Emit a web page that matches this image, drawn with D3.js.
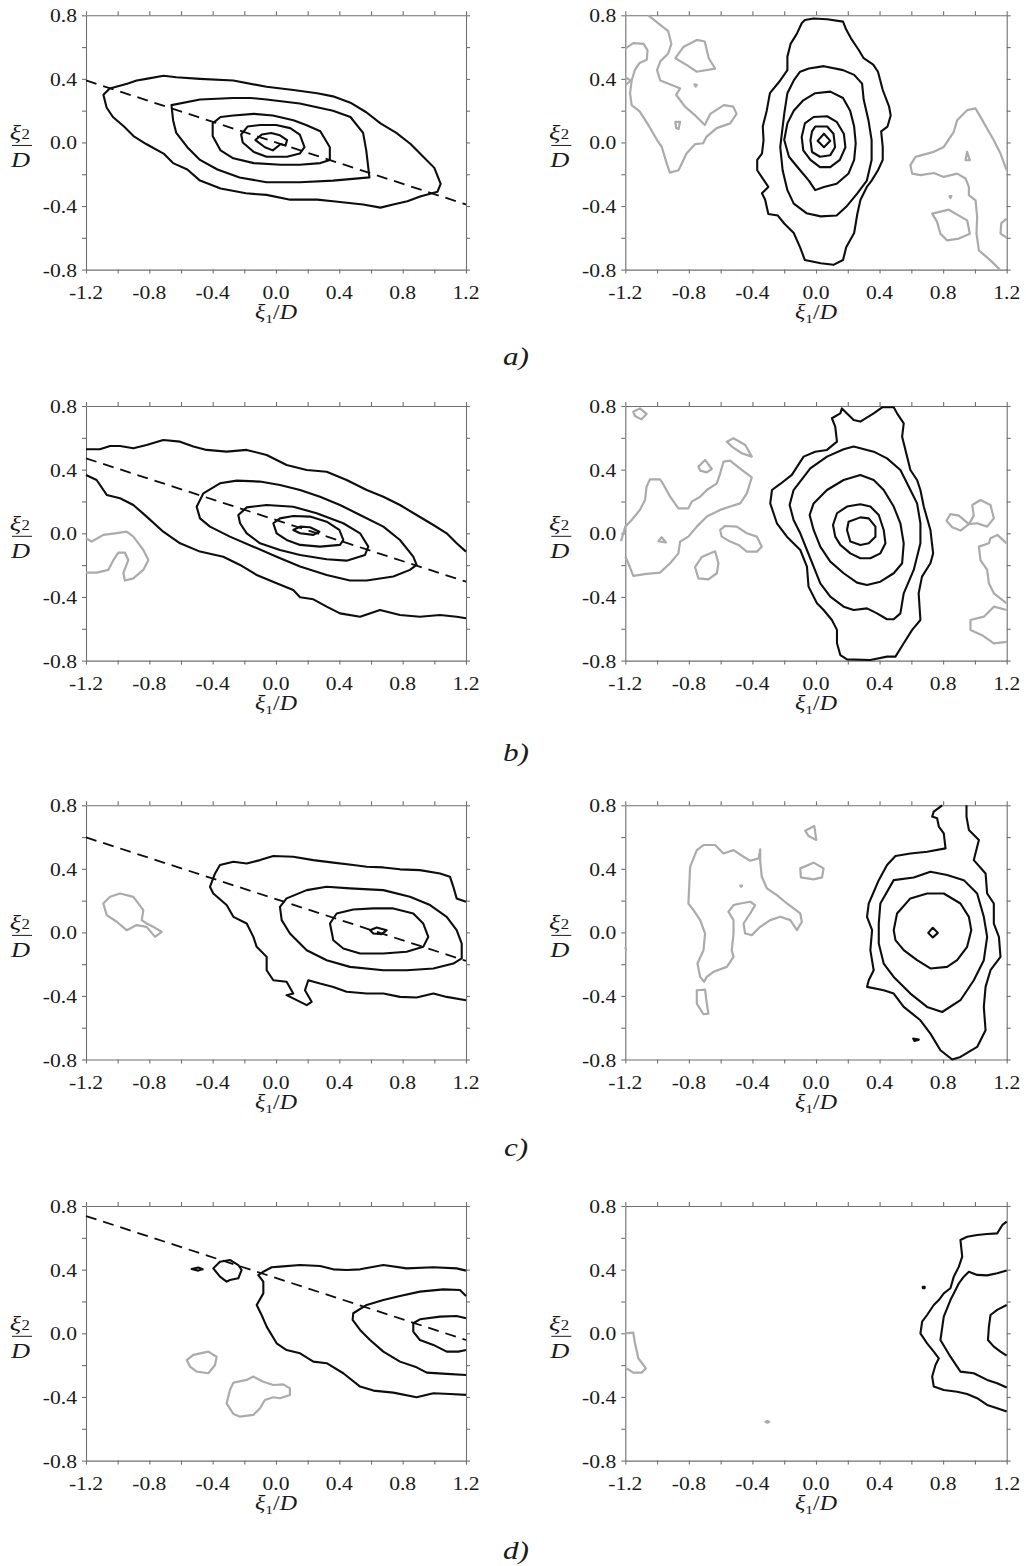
<!DOCTYPE html>
<html><head><meta charset="utf-8">
<script src="https://cdn.jsdelivr.net/npm/d3@7"></script>
<style>
html,body{margin:0;padding:0;background:#fff;}
svg{display:block;}
text{font-family:"Liberation Serif","DejaVu Serif",serif;fill:#1a1a1a;}
</style></head>
<body>
<svg id="chart" width="1026" height="1566"></svg>
<script>
// ---------- axes / labels ----------
const xTickVals = [-1.2,-1.0,-0.8,-0.6,-0.4,-0.2,0.0,0.2,0.4,0.6,0.8,1.0,1.2];
const yTickVals = [-0.8,-0.6,-0.4,-0.2,0.0,0.2,0.4,0.6,0.8];
const xLabelVals = [-1.2,-0.8,-0.4,0.0,0.4,0.8,1.2];
const xLabelText = ["-1.2","-0.8","-0.4","0.0","0.4","0.8","1.2"];
const yLabelVals = [-0.8,-0.4,0.0,0.4,0.8];
const yLabelText = ["-0.8","-0.4","0.0","0.4","0.8"];
const panelLetters = ["a)","b)","c)","d)"];

// ---------- a) left ----------
const aL_black = [
 [[-1.09,0.30],[-1.05,0.34],[-0.94,0.37],[-0.88,0.39],[-0.82,0.40],[-0.71,0.42],[-0.63,0.41],[-0.48,0.40],[-0.27,0.39],[-0.06,0.35],[0.11,0.33],[0.26,0.31],[0.36,0.29],[0.47,0.25],[0.57,0.19],[0.66,0.12],[0.76,0.06],[0.85,-0.01],[0.93,-0.09],[1.00,-0.16],[1.04,-0.26],[1.02,-0.31],[0.91,-0.34],[0.83,-0.37],[0.74,-0.39],[0.66,-0.41],[0.55,-0.39],[0.36,-0.37],[0.26,-0.36],[0.09,-0.36],[-0.06,-0.33],[-0.19,-0.32],[-0.35,-0.29],[-0.48,-0.24],[-0.56,-0.17],[-0.65,-0.13],[-0.71,-0.07],[-0.82,-0.01],[-0.90,0.04],[-0.96,0.10],[-1.03,0.16],[-1.07,0.22]],
 [[-0.66,0.235],[-0.48,0.27],[-0.27,0.28],[-0.16,0.28],[-0.06,0.27],[0.15,0.245],[0.36,0.20],[0.47,0.16],[0.55,0.06],[0.57,-0.05],[0.59,-0.22],[0.36,-0.24],[0.15,-0.25],[0.04,-0.25],[-0.06,-0.25],[-0.23,-0.22],[-0.37,-0.17],[-0.48,-0.11],[-0.56,-0.03],[-0.63,0.06],[-0.65,0.14]],
 [[-0.40,0.12],[-0.35,0.16],[-0.27,0.17],[-0.14,0.18],[-0.02,0.17],[0.11,0.14],[0.19,0.11],[0.28,0.07],[0.34,-0.03],[0.34,-0.11],[0.28,-0.13],[0.15,-0.14],[0.03,-0.14],[-0.14,-0.13],[-0.27,-0.10],[-0.35,-0.05],[-0.40,0.04]],
 [[-0.22,0.05],[-0.18,0.10],[-0.10,0.11],[0.00,0.11],[0.09,0.09],[0.15,0.05],[0.18,-0.03],[0.15,-0.07],[0.07,-0.09],[-0.06,-0.09],[-0.14,-0.06],[-0.21,0.00]],
 [[-0.13,0.015],[-0.09,0.05],[-0.03,0.06],[0.025,0.045],[0.07,0.015],[0.06,-0.02],[0.03,-0.01],[-0.02,-0.05],[-0.07,-0.03]]
];
const aL_blackOpen = [];
const aL_gray = [];
const aL_grayOpen = [];
const aL_dash = [[-1.2,0.39],[1.2,-0.39]];

// ---------- a) right ----------
const aR_black = [
 [[-0.07,0.77],[-0.015,0.78],[0.07,0.775],[0.17,0.76],[0.19,0.71],[0.22,0.655],[0.27,0.58],[0.30,0.53],[0.36,0.49],[0.39,0.445],[0.42,0.33],[0.46,0.225],[0.47,0.17],[0.45,0.10],[0.41,0.07],[0.42,-0.03],[0.42,-0.11],[0.39,-0.175],[0.35,-0.24],[0.32,-0.28],[0.28,-0.36],[0.26,-0.45],[0.24,-0.57],[0.19,-0.66],[0.17,-0.74],[0.11,-0.77],[0.03,-0.76],[-0.07,-0.74],[-0.10,-0.66],[-0.14,-0.57],[-0.20,-0.51],[-0.24,-0.46],[-0.30,-0.45],[-0.32,-0.36],[-0.34,-0.32],[-0.30,-0.28],[-0.34,-0.22],[-0.37,-0.175],[-0.37,-0.11],[-0.34,-0.07],[-0.33,0.015],[-0.335,0.10],[-0.31,0.20],[-0.29,0.31],[-0.225,0.39],[-0.18,0.455],[-0.18,0.54],[-0.16,0.62],[-0.12,0.685],[-0.09,0.75]],
 [[-0.045,0.465],[0.05,0.48],[0.17,0.455],[0.24,0.425],[0.29,0.37],[0.30,0.27],[0.33,0.14],[0.35,0.015],[0.35,-0.11],[0.32,-0.24],[0.26,-0.32],[0.19,-0.405],[0.13,-0.46],[0.03,-0.465],[-0.06,-0.445],[-0.14,-0.385],[-0.18,-0.30],[-0.21,-0.175],[-0.225,-0.03],[-0.215,0.055],[-0.20,0.18],[-0.18,0.31],[-0.14,0.39],[-0.10,0.445]],
 [[-0.005,0.31],[0.09,0.32],[0.17,0.28],[0.215,0.20],[0.24,0.10],[0.25,-0.005],[0.24,-0.11],[0.205,-0.195],[0.13,-0.26],[0.05,-0.28],[-0.005,-0.30],[-0.045,-0.24],[-0.10,-0.175],[-0.17,-0.09],[-0.20,0.015],[-0.18,0.12],[-0.14,0.20],[-0.08,0.265]],
 [[-0.015,0.16],[0.07,0.165],[0.13,0.13],[0.175,0.055],[0.185,-0.03],[0.15,-0.11],[0.09,-0.155],[0.025,-0.155],[-0.035,-0.11],[-0.08,-0.05],[-0.09,0.035],[-0.07,0.12]],
 [[-0.005,0.10],[0.07,0.10],[0.11,0.055],[0.12,-0.03],[0.09,-0.08],[0.025,-0.09],[-0.025,-0.06],[-0.035,0.015],[-0.025,0.07]],
 [[0.05,0.055],[0.09,0.01],[0.05,-0.03],[0.01,0.01]]
];
const aR_blackOpen = [];
const aR_gray = [
 [[-0.885,0.53],[-0.835,0.60],[-0.75,0.645],[-0.70,0.635],[-0.675,0.53],[-0.635,0.465],[-0.75,0.445],[-0.81,0.485]],
 [[-0.765,0.365],[-0.75,0.362],[-0.757,0.352]],
 [[-0.885,0.13],[-0.855,0.13],[-0.865,0.085],[-0.88,0.09]],
 [[0.731,-0.448],[0.836,-0.423],[0.951,-0.49],[0.968,-0.574],[0.899,-0.605],[0.825,-0.616],[0.783,-0.574],[0.762,-0.50]],
 [[0.951,-0.059],[0.968,-0.112],[0.941,-0.112]],
 [[0.84,-0.338],[0.852,-0.338],[0.846,-0.35]]
];
const aR_grayOpen = [
 [[-1.055,0.8],[-0.98,0.74],[-0.93,0.70],[-0.91,0.62],[-0.93,0.56],[-0.98,0.51],[-1.00,0.455],[-0.98,0.39],[-0.88,0.35],[-0.855,0.34],[-0.88,0.30],[-0.825,0.225],[-0.76,0.17],[-0.70,0.11],[-0.665,0.18],[-0.58,0.235],[-0.52,0.225],[-0.50,0.18],[-0.54,0.12],[-0.625,0.09],[-0.69,0.035],[-0.71,-0.005],[-0.76,-0.01],[-0.815,-0.07],[-0.855,-0.155],[-0.865,-0.175],[-0.92,-0.19],[-0.94,-0.13],[-0.97,-0.03],[-1.00,0.015],[-1.055,0.11],[-1.11,0.195],[-1.16,0.235],[-1.17,0.31],[-1.16,0.39],[-1.14,0.455],[-1.11,0.50],[-1.065,0.52],[-1.06,0.58],[-1.085,0.62],[-1.15,0.625],[-1.2,0.59]],
 [[-1.2,0.41],[-1.165,0.39],[-1.2,0.36]],
 [[1.2,-0.175],[1.161,-0.07],[1.119,0.014],[1.088,0.067],[1.035,0.161],[1.004,0.214],[0.951,0.203],[0.888,0.14],[0.867,0.067],[0.804,-0.028],[0.741,-0.059],[0.626,-0.091],[0.594,-0.143],[0.605,-0.196],[0.657,-0.206],[0.741,-0.192],[0.804,-0.217],[0.888,-0.196],[0.941,-0.227],[0.962,-0.28],[0.962,-0.332],[1.004,-0.364],[1.014,-0.469],[1.010,-0.574],[1.025,-0.679],[1.098,-0.742],[1.157,-0.80]],
 [[1.2,-0.479],[1.166,-0.507],[1.161,-0.574],[1.2,-0.599]]
];
const aR_dash = [];

// ---------- b) left ----------
const bL_black = [
 [[-0.501,0.167],[-0.459,0.251],[-0.354,0.314],[-0.248,0.331],[-0.101,0.325],[0.025,0.304],[0.152,0.272],[0.278,0.23],[0.404,0.178],[0.531,0.115],[0.678,0.042],[0.783,-0.042],[0.867,-0.147],[0.888,-0.199],[0.846,-0.23],[0.741,-0.272],[0.573,-0.297],[0.467,-0.297],[0.32,-0.262],[0.152,-0.209],[0.004,-0.147],[-0.143,-0.084],[-0.291,-0.021],[-0.417,0.042],[-0.48,0.094]],
 [[-0.238,0.115],[-0.185,0.163],[-0.059,0.178],[0.109,0.167],[0.257,0.126],[0.425,0.063],[0.531,0.0],[0.583,-0.084],[0.562,-0.136],[0.446,-0.172],[0.32,-0.163],[0.152,-0.136],[0.025,-0.105],[-0.101,-0.063],[-0.185,0.0],[-0.227,0.063]],
 [[-0.017,0.063],[0.025,0.094],[0.109,0.109],[0.215,0.105],[0.32,0.073],[0.40,0.021],[0.425,-0.042],[0.404,-0.073],[0.278,-0.084],[0.152,-0.073],[0.067,-0.042],[0.004,0.0]],
 [[0.109,0.021],[0.152,0.042],[0.215,0.038],[0.274,0.010],[0.236,-0.010],[0.152,0.0]]
];
const bL_blackOpen = [
 [[-1.2,0.528],[-1.112,0.528],[-1.048,0.549],[-0.985,0.549],[-0.901,0.534],[-0.817,0.555],[-0.712,0.586],[-0.606,0.576],[-0.522,0.545],[-0.438,0.524],[-0.312,0.513],[-0.185,0.524],[-0.059,0.492],[0.067,0.429],[0.194,0.398],[0.32,0.387],[0.446,0.335],[0.573,0.272],[0.678,0.23],[0.783,0.178],[0.888,0.115],[0.994,0.052],[1.078,0.0],[1.141,-0.063],[1.2,-0.115]],
 [[-1.2,0.366],[-1.133,0.335],[-1.069,0.241],[-0.985,0.22],[-0.901,0.178],[-0.817,0.105],[-0.712,0.010],[-0.606,-0.063],[-0.48,-0.115],[-0.333,-0.147],[-0.227,-0.199],[-0.122,-0.262],[0.004,-0.314],[0.109,-0.356],[0.152,-0.402],[0.236,-0.415],[0.32,-0.461],[0.404,-0.503],[0.531,-0.524],[0.657,-0.482],[0.783,-0.513],[0.909,-0.524],[1.036,-0.513],[1.141,-0.524],[1.2,-0.534]]
];
const bL_gray = [];
const bL_grayOpen = [
 [[-1.2,-0.031],[-1.164,-0.052],[-1.09,-0.010],[-1.017,0.0],[-0.943,0.010],[-0.901,-0.021],[-0.869,-0.063],[-0.838,-0.105],[-0.806,-0.168],[-0.838,-0.23],[-0.901,-0.283],[-0.954,-0.297],[-0.964,-0.251],[-0.933,-0.168],[-0.954,-0.122],[-0.996,-0.122],[-1.027,-0.168],[-1.059,-0.23],[-1.133,-0.247],[-1.2,-0.247]]
];
const bL_dash = [[-1.2,0.471],[1.2,-0.304]];

// ---------- b) right ----------
const bR_black = [
 [[0.153,0.754],[0.163,0.785],[0.237,0.712],[0.279,0.702],[0.363,0.754],[0.416,0.792],[0.489,0.792],[0.51,0.754],[0.552,0.691],[0.542,0.607],[0.573,0.482],[0.594,0.398],[0.636,0.335],[0.657,0.272],[0.678,0.168],[0.72,0.021],[0.737,-0.126],[0.72,-0.188],[0.667,-0.272],[0.646,-0.377],[0.657,-0.545],[0.605,-0.607],[0.552,-0.691],[0.50,-0.775],[0.447,-0.775],[0.342,-0.796],[0.195,-0.792],[0.153,-0.765],[0.132,-0.691],[0.132,-0.607],[0.10,-0.545],[0.048,-0.482],[0.006,-0.44],[-0.047,-0.335],[-0.057,-0.209],[-0.099,-0.105],[-0.183,-0.021],[-0.246,0.063],[-0.288,0.188],[-0.277,0.272],[-0.225,0.31],[-0.152,0.367],[-0.078,0.482],[-0.005,0.513],[0.069,0.524],[0.132,0.576],[0.121,0.67],[0.10,0.723]],
 [[-0.166,0.178],[-0.141,0.272],[-0.036,0.408],[0.069,0.482],[0.174,0.528],[0.237,0.545],[0.363,0.513],[0.447,0.471],[0.531,0.398],[0.584,0.293],[0.636,0.188],[0.657,0.063],[0.657,-0.063],[0.615,-0.23],[0.552,-0.377],[0.531,-0.503],[0.489,-0.54],[0.447,-0.54],[0.384,-0.503],[0.321,-0.472],[0.237,-0.482],[0.174,-0.461],[0.09,-0.398],[0.027,-0.314],[-0.015,-0.209],[-0.057,-0.105],[-0.099,0.0],[-0.141,0.084]],
 [[-0.04,0.115],[-0.015,0.188],[0.069,0.272],[0.174,0.335],[0.279,0.367],[0.363,0.335],[0.426,0.272],[0.489,0.168],[0.531,0.063],[0.552,-0.063],[0.542,-0.188],[0.489,-0.251],[0.405,-0.304],[0.321,-0.325],[0.258,-0.31],[0.174,-0.251],[0.09,-0.178],[0.027,-0.084],[-0.015,0.021]],
 [[0.107,0.052],[0.132,0.126],[0.195,0.168],[0.279,0.183],[0.342,0.168],[0.395,0.115],[0.426,0.021],[0.437,-0.063],[0.405,-0.126],[0.342,-0.157],[0.279,-0.157],[0.216,-0.126],[0.153,-0.073],[0.121,-0.021]],
 [[0.195,0.021],[0.205,0.073],[0.279,0.10],[0.332,0.094],[0.374,0.042],[0.374,-0.021],[0.332,-0.063],[0.279,-0.073],[0.216,-0.052]]
];
const bR_blackOpen = [];
const bR_gray = [
 [[-1.15,0.764],[-1.108,0.785],[-1.066,0.75],[-1.098,0.716],[-1.139,0.737]],
 [[-0.74,0.419],[-0.698,0.461],[-0.656,0.404],[-0.687,0.383],[-0.729,0.394]],
 [[-0.561,0.576],[-0.519,0.597],[-0.445,0.555],[-0.404,0.482],[-0.467,0.503],[-0.53,0.545]],
 [[-0.992,-0.05],[-0.971,-0.025],[-0.944,-0.057]],
 [[-0.603,0.021],[-0.572,0.046],[-0.498,0.042],[-0.435,0.0],[-0.372,-0.021],[-0.341,-0.084],[-0.372,-0.115],[-0.435,-0.115],[-0.488,-0.073],[-0.54,-0.052],[-0.593,-0.021]],
 [[-0.761,-0.213],[-0.719,-0.149],[-0.635,-0.113],[-0.614,-0.188],[-0.624,-0.251],[-0.677,-0.289],[-0.74,-0.283]],
 [[0.821,0.079],[0.846,0.121],[0.899,0.111],[0.962,0.058],[0.993,0.111],[0.983,0.178],[1.035,0.209],[1.098,0.178],[1.119,0.094],[1.077,0.042],[1.014,0.063],[0.962,0.058],[0.909,0.017],[0.857,0.038]]
];
const bR_grayOpen = [
 [[-1.2,-0.147],[-1.181,-0.188],[-1.15,-0.268],[-1.066,-0.255],[-0.982,-0.247],[-0.918,-0.188],[-0.866,-0.126],[-0.855,-0.052],[-0.803,-0.021],[-0.75,0.042],[-0.687,0.105],[-0.603,0.147],[-0.54,0.168],[-0.477,0.188],[-0.435,0.251],[-0.404,0.352],[-0.467,0.398],[-0.519,0.44],[-0.54,0.457],[-0.582,0.45],[-0.603,0.377],[-0.624,0.314],[-0.687,0.272],[-0.729,0.23],[-0.782,0.199],[-0.803,0.157],[-0.866,0.157],[-0.918,0.23],[-0.971,0.325],[-0.982,0.339],[-1.045,0.339],[-1.066,0.293],[-1.076,0.209],[-1.108,0.147],[-1.16,0.084],[-1.2,0.042],[-1.227,-0.05]],
 [[1.2,-0.063],[1.141,-0.010],[1.098,-0.031],[1.088,-0.063],[1.025,-0.084],[1.035,-0.168],[1.077,-0.23],[1.088,-0.314],[1.119,-0.377],[1.2,-0.44]],
 [[1.2,-0.482],[1.119,-0.461],[1.056,-0.524],[0.972,-0.545],[0.972,-0.608],[1.045,-0.64],[1.119,-0.692],[1.2,-0.682]]
];
const bR_dash = [];

// ---------- c) left ----------
const cL_black = [
 [[0.025,0.161],[0.067,0.214],[0.194,0.266],[0.32,0.287],[0.467,0.277],[0.678,0.266],[0.846,0.224],[0.973,0.172],[1.078,0.098],[1.141,0.014],[1.173,-0.07],[1.173,-0.164],[1.12,-0.196],[0.994,-0.227],[0.825,-0.238],[0.678,-0.238],[0.467,-0.217],[0.32,-0.175],[0.194,-0.112],[0.088,-0.007],[0.036,0.077]],
 [[0.341,0.056],[0.383,0.119],[0.488,0.144],[0.615,0.151],[0.741,0.151],[0.867,0.119],[0.93,0.056],[0.962,-0.028],[0.93,-0.091],[0.825,-0.122],[0.678,-0.133],[0.531,-0.133],[0.425,-0.101],[0.362,-0.049]],
 [[0.594,0.014],[0.636,0.031],[0.699,0.014],[0.667,-0.011],[0.615,-0.007]]
];
const cL_blackOpen = [
 [[1.2,0.193],[1.141,0.214],[1.12,0.287],[1.099,0.35],[1.036,0.371],[0.909,0.392],[0.783,0.397],[0.678,0.409],[0.573,0.413],[0.488,0.424],[0.362,0.439],[0.236,0.455],[0.109,0.476],[-0.017,0.481],[-0.101,0.455],[-0.185,0.434],[-0.269,0.445],[-0.354,0.424],[-0.385,0.371],[-0.417,0.287],[-0.396,0.245],[-0.312,0.172],[-0.269,0.098],[-0.185,0.056],[-0.143,-0.028],[-0.122,-0.091],[-0.059,-0.154],[-0.059,-0.238],[-0.017,-0.301],[0.067,-0.311],[0.109,-0.385],[0.067,-0.395],[0.194,-0.458],[0.225,-0.437],[0.183,-0.364],[0.204,-0.301],[0.278,-0.322],[0.362,-0.343],[0.446,-0.374],[0.573,-0.385],[0.678,-0.385],[0.783,-0.406],[0.888,-0.41],[0.994,-0.385],[1.078,-0.406],[1.2,-0.427]]
];
const cL_gray = [
 [[-1.091,0.182],[-1.048,0.224],[-0.985,0.245],[-0.901,0.224],[-0.838,0.14],[-0.848,0.077],[-0.817,0.056],[-0.775,0.035],[-0.722,0.004],[-0.764,-0.028],[-0.817,0.035],[-0.88,0.046],[-0.943,0.014],[-1.006,0.067],[-1.069,0.109]]
];
const cL_grayOpen = [];
const cL_dash = [[-1.2,0.598],[1.2,-0.179]];

// ---------- c) right ----------
const cR_black = [
 [[0.395,0.056],[0.405,0.182],[0.489,0.329],[0.615,0.346],[0.72,0.382],[0.825,0.361],[0.93,0.329],[1.014,0.245],[1.056,0.098],[1.077,-0.028],[1.056,-0.175],[0.993,-0.301],[0.909,-0.427],[0.794,-0.501],[0.699,-0.469],[0.594,-0.385],[0.489,-0.28],[0.426,-0.196],[0.395,-0.07]],
 [[0.489,0.014],[0.51,0.119],[0.594,0.214],[0.699,0.245],[0.804,0.245],[0.909,0.182],[0.962,0.098],[0.977,0.014],[0.951,-0.091],[0.888,-0.175],[0.825,-0.217],[0.72,-0.227],[0.636,-0.175],[0.552,-0.112],[0.50,-0.049]],
 [[0.706,-0.003],[0.735,0.029],[0.767,-0.003],[0.735,-0.032]],
 [[0.611,-0.668],[0.647,-0.675],[0.62,-0.683]]
];
const cR_blackOpen = [
 [[0.794,0.8],[0.741,0.76],[0.731,0.729],[0.762,0.718],[0.773,0.666],[0.804,0.624],[0.815,0.529],[0.699,0.508],[0.594,0.497],[0.50,0.481],[0.447,0.424],[0.395,0.329],[0.332,0.182],[0.321,0.098],[0.353,0.014],[0.342,-0.112],[0.363,-0.238],[0.332,-0.301],[0.321,-0.343],[0.426,-0.364],[0.489,-0.385],[0.552,-0.469],[0.657,-0.553],[0.72,-0.637],[0.783,-0.742],[0.857,-0.80],[0.909,-0.784],[1.014,-0.721],[1.067,-0.616],[1.056,-0.469],[1.067,-0.343],[1.098,-0.238],[1.161,-0.154],[1.151,-0.028],[1.119,0.056],[1.119,0.182],[1.077,0.245],[1.067,0.371],[0.993,0.455],[1.025,0.581],[0.962,0.645],[0.947,0.729],[0.947,0.8]]
];
const cR_gray = [
 [[-0.708,0.55],[-0.635,0.55],[-0.582,0.497],[-0.519,0.518],[-0.456,0.476],[-0.414,0.451],[-0.361,0.466],[-0.351,0.523],[-0.351,0.445],[-0.341,0.35],[-0.309,0.277],[-0.246,0.235],[-0.183,0.182],[-0.099,0.119],[-0.089,0.067],[-0.12,0.014],[-0.162,0.077],[-0.225,0.098],[-0.288,0.077],[-0.351,0.035],[-0.404,-0.017],[-0.446,-0.007],[-0.456,0.056],[-0.414,0.119],[-0.383,0.172],[-0.414,0.193],[-0.477,0.182],[-0.519,0.172],[-0.551,0.13],[-0.519,0.077],[-0.519,-0.007],[-0.53,-0.112],[-0.519,-0.154],[-0.561,-0.217],[-0.645,-0.248],[-0.687,-0.28],[-0.704,-0.311],[-0.729,-0.28],[-0.746,-0.196],[-0.708,-0.112],[-0.698,-0.007],[-0.729,0.077],[-0.771,0.14],[-0.803,0.182],[-0.797,0.308],[-0.792,0.413],[-0.75,0.518]],
 [[-0.477,0.294],[-0.465,0.294],[-0.471,0.288]],
 [[-0.75,-0.364],[-0.698,-0.36],[-0.687,-0.448],[-0.677,-0.511],[-0.708,-0.515],[-0.75,-0.448]],
 [[-0.099,0.403],[-0.015,0.439],[0.048,0.403],[0.038,0.346],[-0.015,0.334],[-0.095,0.346]],
 [[-0.068,0.64],[-0.011,0.67],[0.002,0.582],[-0.047,0.607]]
];
const cR_grayOpen = [
 [[-1.2,-0.09],[-1.195,-0.115]]
];
const cR_dash = [];

// ---------- d) left ----------
const dL_black = [
 [[-0.396,0.408],[-0.354,0.45],[-0.291,0.461],[-0.238,0.429],[-0.217,0.398],[-0.238,0.346],[-0.291,0.335],[-0.312,0.325],[-0.354,0.356]],
 [[-0.533,0.404],[-0.491,0.413],[-0.463,0.402],[-0.491,0.394]]
];
const dL_blackOpen = [
 [[1.2,0.394],[1.141,0.408],[0.994,0.415],[0.825,0.408],[0.678,0.429],[0.531,0.402],[0.446,0.398],[0.362,0.402],[0.278,0.423],[0.152,0.429],[0.025,0.419],[-0.027,0.415],[-0.08,0.387],[-0.112,0.366],[-0.08,0.325],[-0.08,0.251],[-0.122,0.178],[-0.091,0.115],[-0.059,0.042],[0.004,-0.063],[0.067,-0.105],[0.152,-0.126],[0.236,-0.178],[0.32,-0.188],[0.425,-0.251],[0.531,-0.335],[0.615,-0.36],[0.741,-0.373],[0.888,-0.402],[0.994,-0.377],[1.099,-0.381],[1.2,-0.387]],
 [[1.2,0.235],[1.162,0.272],[1.057,0.276],[0.909,0.262],[0.783,0.235],[0.678,0.209],[0.573,0.178],[0.488,0.126],[0.484,0.084],[0.531,0.021],[0.594,-0.042],[0.678,-0.115],[0.783,-0.178],[0.888,-0.214],[0.952,-0.247],[1.078,-0.255],[1.2,-0.262]],
 [[1.2,0.094],[1.141,0.109],[1.036,0.105],[0.909,0.088],[0.867,0.063],[0.867,0.010],[0.909,-0.042],[0.994,-0.073],[1.078,-0.115],[1.152,-0.115],[1.2,-0.105]]
];
const dL_gray = [
 [[-0.564,-0.168],[-0.522,-0.136],[-0.427,-0.115],[-0.375,-0.147],[-0.385,-0.199],[-0.427,-0.251],[-0.501,-0.241],[-0.543,-0.209]],
 [[-0.312,-0.44],[-0.291,-0.356],[-0.269,-0.31],[-0.185,-0.293],[-0.143,-0.272],[-0.08,-0.304],[-0.017,-0.325],[0.046,-0.321],[0.088,-0.346],[0.088,-0.388],[0.025,-0.408],[-0.017,-0.402],[-0.07,-0.419],[-0.101,-0.471],[-0.143,-0.513],[-0.227,-0.524],[-0.269,-0.507]]
];
const dL_grayOpen = [];
const dL_dash = [[-1.2,0.737],[1.2,-0.042]];

// ---------- d) right ----------
const dR_black = [
 [[0.672,0.292],[0.684,0.292],[0.684,0.284],[0.672,0.284]]
];
const dR_blackOpen = [
 [[1.2,0.702],[1.173,0.681],[1.14,0.628],[1.077,0.624],[1.014,0.618],[0.951,0.607],[0.909,0.586],[0.92,0.482],[0.899,0.419],[0.867,0.356],[0.846,0.283],[0.804,0.251],[0.773,0.209],[0.741,0.178],[0.699,0.115],[0.668,0.073],[0.657,0.0],[0.699,-0.063],[0.741,-0.115],[0.773,-0.157],[0.752,-0.199],[0.731,-0.272],[0.741,-0.335],[0.804,-0.356],[0.888,-0.367],[0.951,-0.381],[1.014,-0.408],[1.077,-0.45],[1.14,-0.471],[1.2,-0.492]],
 [[1.2,0.394],[1.14,0.377],[1.077,0.364],[1.014,0.367],[0.962,0.387],[0.93,0.356],[0.899,0.314],[0.878,0.272],[0.846,0.209],[0.804,0.105],[0.783,-0.042],[0.846,-0.147],[0.909,-0.241],[0.993,-0.251],[1.077,-0.293],[1.14,-0.314],[1.2,-0.341]],
 [[1.2,0.178],[1.14,0.147],[1.098,0.115],[1.088,0.042],[1.082,-0.042],[1.119,-0.084],[1.161,-0.115],[1.2,-0.14]]
];
const dR_gray = [
 [[-0.318,-0.556],[-0.306,-0.552],[-0.294,-0.556],[-0.306,-0.562]]
];
const dR_grayOpen = [
 [[-1.2,0.0],[-1.15,0.004],[-1.139,-0.063],[-1.118,-0.157],[-1.07,-0.22],[-1.097,-0.247],[-1.15,-0.247],[-1.192,-0.22]]
];
const dR_dash = [];

// ---------- layout table built from the arrays ----------
const colX = [[86,466],[625.3,1006.7]];
const rowY = [[15.3,269.6],[406,660.6],[805.3,1059.5],[1206,1460.6]];
const letterY = [365,761,1156,1559];

const panels = [
 {r:0,c:0,black:aL_black,blackOpen:aL_blackOpen,gray:aL_gray,grayOpen:aL_grayOpen,dash:aL_dash},
 {r:0,c:1,black:aR_black,blackOpen:aR_blackOpen,gray:aR_gray,grayOpen:aR_grayOpen,dash:aR_dash},
 {r:1,c:0,black:bL_black,blackOpen:bL_blackOpen,gray:bL_gray,grayOpen:bL_grayOpen,dash:bL_dash},
 {r:1,c:1,black:bR_black,blackOpen:bR_blackOpen,gray:bR_gray,grayOpen:bR_grayOpen,dash:bR_dash},
 {r:2,c:0,black:cL_black,blackOpen:cL_blackOpen,gray:cL_gray,grayOpen:cL_grayOpen,dash:cL_dash},
 {r:2,c:1,black:cR_black,blackOpen:cR_blackOpen,gray:cR_gray,grayOpen:cR_grayOpen,dash:cR_dash},
 {r:3,c:0,black:dL_black,blackOpen:dL_blackOpen,gray:dL_gray,grayOpen:dL_grayOpen,dash:dL_dash},
 {r:3,c:1,black:dR_black,blackOpen:dR_blackOpen,gray:dR_gray,grayOpen:dR_grayOpen,dash:dR_dash}
];

const svg = d3.select("#chart");
const AX = "#707070", BLK = "#0d0d0d", GRY = "#ababab";
const SX = 1.2; // horizontal stretch of glyphs

function stretchedText(g, x, y, str, size, anchor, italic){
  return g.append("text")
    .attr("transform", `translate(${x},${y}) scale(${SX},1)`)
    .attr("text-anchor", anchor)
    .style("font-size", size + "px")
    .style("font-style", italic ? "italic" : "normal")
    .text(str);
}

panels.forEach(p => {
  const [x0,x1] = colX[p.c];
  const [y0,y1] = rowY[p.r];
  const xs = d3.scaleLinear().domain([-1.2,1.2]).range([x0,x1]);
  const ys = d3.scaleLinear().domain([-0.8,0.8]).range([y1,y0]);
  const g = svg.append("g");

  const line = d3.line().x(d=>xs(d[0])).y(d=>ys(d[1]));
  const lineC = d3.line().x(d=>xs(d[0])).y(d=>ys(d[1])).curve(d3.curveLinearClosed);

  // axes (ticks every 0.2, outward)
  const mk = (axis, tr) => {
    const a = g.append("g").attr("transform", tr).call(axis);
    a.selectAll("path").attr("stroke", AX).attr("stroke-width", 1.1);
    a.selectAll("line").attr("stroke", AX).attr("stroke-width", 1.1);
    a.selectAll("text").remove();
  };
  mk(d3.axisBottom(xs).tickValues(xTickVals).tickSize(4).tickSizeOuter(0).tickFormat(""), `translate(0,${y1})`);
  mk(d3.axisTop(xs).tickValues(xTickVals).tickSize(4).tickSizeOuter(0).tickFormat(""), `translate(0,${y0})`);
  mk(d3.axisLeft(ys).tickValues(yTickVals).tickSize(4).tickSizeOuter(0).tickFormat(""), `translate(${x0},0)`);
  mk(d3.axisRight(ys).tickValues(yTickVals).tickSize(4).tickSizeOuter(0).tickFormat(""), `translate(${x1},0)`);

  // tick labels
  xLabelVals.forEach((v,i) => stretchedText(g, xs(v), y1 + 29, xLabelText[i], 18, "middle", false));
  yLabelVals.forEach((v,i) => stretchedText(g, x0 - 9, ys(v) + 7, yLabelText[i], 18, "end", false));

  // contours
  g.selectAll(null).data(p.gray).enter().append("path")
    .attr("d", lineC).attr("fill","none").attr("stroke",GRY).attr("stroke-width",2.2).attr("stroke-linejoin","round");
  g.selectAll(null).data(p.grayOpen).enter().append("path")
    .attr("d", line).attr("fill","none").attr("stroke",GRY).attr("stroke-width",2.2).attr("stroke-linejoin","round");
  g.selectAll(null).data(p.black).enter().append("path")
    .attr("d", lineC).attr("fill","none").attr("stroke",BLK).attr("stroke-width",2.1).attr("stroke-linejoin","round");
  g.selectAll(null).data(p.blackOpen).enter().append("path")
    .attr("d", line).attr("fill","none").attr("stroke",BLK).attr("stroke-width",2.1).attr("stroke-linejoin","round");
  if (p.dash.length) {
    g.append("path").datum(p.dash).attr("d", line).attr("fill","none")
      .attr("stroke",BLK).attr("stroke-width",1.8).attr("stroke-dasharray","11,7");
  }

  // y-axis label: xi_2 over D
  const cx = x0 - 64, zy = ys(0);
  const yl = g.append("g");
  yl.append("text").attr("transform",`translate(${cx-1},${zy-2}) scale(${SX},1)`)
    .attr("text-anchor","end").style("font-size","22px").style("font-style","italic").text("ξ");
  yl.append("text").attr("transform",`translate(${cx-0.5},${zy-3}) scale(${SX},1)`)
    .attr("text-anchor","start").style("font-size","14px").text("2");
  yl.append("line").attr("x1",cx-10).attr("x2",cx+10).attr("y1",zy+3).attr("y2",zy+3)
    .attr("stroke","#1a1a1a").attr("stroke-width",1);
  yl.append("text").attr("transform",`translate(${cx-1.5},${zy+24.5}) scale(${SX},1)`)
    .attr("text-anchor","middle").style("font-size","22px").style("font-style","italic").text("D");

  // x-axis label: xi_1 / D
  const mx = (x0 + x1) / 2, by = y1 + 49;
  const xl = g.append("text").attr("transform",`translate(${mx},${by}) scale(${SX},1)`)
    .attr("text-anchor","middle").style("font-size","20px");
  xl.append("tspan").style("font-style","italic").text("ξ");
  xl.append("tspan").attr("dy",4).style("font-size","13px").text("1");
  xl.append("tspan").attr("dy",-4).text("/");
  xl.append("tspan").style("font-style","italic").text("D");
});

// panel letters
panelLetters.forEach((t,i) => stretchedText(svg, 516, letterY[i], t, 26, "middle", true));
</script>
</body></html>
